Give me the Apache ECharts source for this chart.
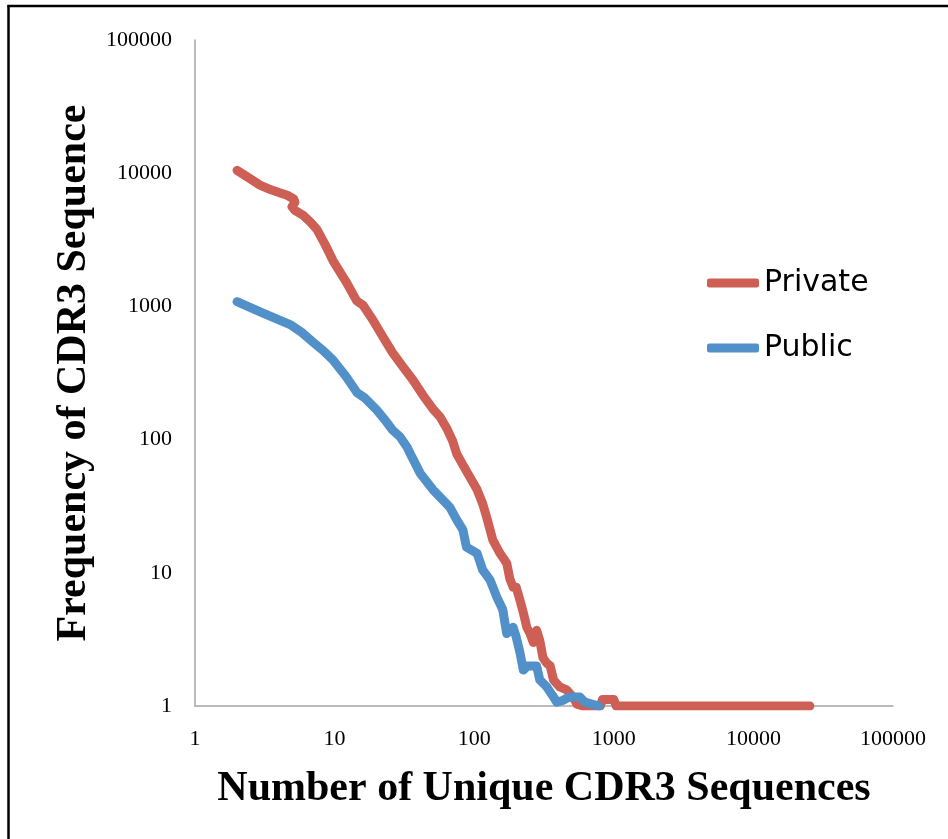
<!DOCTYPE html>
<html>
<head>
<meta charset="utf-8">
<script src="https://cdn.jsdelivr.net/npm/echarts@6/dist/echarts.min.js"></script>
<style>
  html, body { margin: 0; padding: 0; background: #fff; }
  #chart { width: 948px; height: 839px; }
</style>
</head>
<body>
<div id="chart"></div>
<script>
// Rank/frequency curves of CDR3 sequences (log-log)
const privateX = [2, 2.4, 2.92, 3.5, 4.0, 4.54, 5.1, 5.2, 4.95, 5.2, 6, 6.7, 7.45, 8.5, 9.75, 12, 14.4, 16, 18.8, 22, 26, 31, 36.4, 43, 50.6, 57, 64, 70, 75, 88, 105, 115, 123, 136, 153, 171, 180, 190, 200, 213, 225, 238, 251, 265, 280, 295, 311, 330, 350, 370, 410, 460, 510, 545, 600, 800, 830, 1000, 1040, 25400];
const privateY = [10500, 9300, 8140, 7500, 7150, 6860, 6400, 6050, 5600, 5250, 4800, 4300, 3800, 2950, 2200, 1550, 1100, 1020, 790, 600, 450, 350, 280, 215, 170, 148, 120, 98, 78, 58, 42, 33, 26, 17.6, 14, 11.8, 9, 7.8, 7.8, 6.2, 5, 3.9, 3.5, 3.0, 3.7, 3.1, 2.3, 2.1, 2.0, 1.57, 1.39, 1.32, 1.17, 1.03, 1, 1, 1.12, 1.12, 1, 1];

const publicX = [2, 3.07, 4.8, 5.8, 7, 8.2, 9.7, 12, 14.5, 16.5, 20, 23, 26, 29.4, 33, 34.7, 41, 50.7, 60, 67, 75, 83, 88, 105, 115, 130, 145, 160, 171, 180, 190, 200, 213, 225, 240, 280, 295, 331, 370, 390, 430, 480, 570, 620, 780];
const publicY = [1084, 890, 730, 640, 540, 470, 398, 300, 225, 205, 167, 140, 118, 105, 88, 79, 56, 42, 35, 31, 25, 21, 15.6, 14, 10.5, 8.8, 6.6, 5.3, 3.5, 3.7, 3.9, 3.3, 2.5, 1.86, 2.0, 2.0, 1.57, 1.39, 1.17, 1.07, 1.1, 1.17, 1.17, 1.07, 1];

const seriesNames = ['Private', 'Public'];
const xTitle = 'Number of Unique CDR3 Sequences';
const yTitle = 'Frequency of CDR3 Sequence';

const zip = (xs, ys) => xs.map((x, i) => [x, ys[i]]);
const plain = v => String(Math.round(v));

const chart = echarts.init(document.getElementById('chart'), null, { renderer: 'canvas' });

const labelFont = { fontFamily: 'Liberation Serif', fontSize: 22, color: '#000' };
const titleFont = { fontFamily: 'Liberation Serif', fontSize: 42, fontWeight: 'bold', color: '#000' };

chart.setOption({
  backgroundColor: '#fff',
  animation: false,
  color: ['#CD5F55', '#5190C9'],
  grid: { left: 195, right: 55, top: 40, bottom: 133, containLabel: false },
  legend: {
    data: seriesNames,
    orient: 'vertical',
    left: 702,
    top: 260,
    itemWidth: 52,
    itemHeight: 9,
    itemGap: 29,
    icon: 'roundRect',
    textStyle: { fontFamily: 'DejaVu Sans', fontSize: 30, color: '#000', lineHeight: 30, padding: [6, 0, 0, 0] }
  },
  xAxis: {
    type: 'log',
    logBase: 10,
    min: 1,
    max: 100000,
    name: xTitle,
    nameLocation: 'middle',
    nameGap: 62,
    nameTextStyle: titleFont,
    axisLine: { show: true, lineStyle: { color: '#a6a6a6', width: 1.5 } },
    axisTick: { show: false },
    splitLine: { show: false },
    minorTick: { show: false },
    axisLabel: Object.assign({ margin: 22, formatter: plain }, labelFont)
  },
  yAxis: {
    type: 'log',
    logBase: 10,
    min: 1,
    max: 100000,
    name: yTitle,
    nameLocation: 'middle',
    nameRotate: 90,
    nameGap: 96,
    nameTextStyle: titleFont,
    axisLine: { show: true, lineStyle: { color: '#a6a6a6', width: 1.5 } },
    axisTick: { show: false },
    splitLine: { show: false },
    axisLabel: Object.assign({ margin: 23, formatter: plain }, labelFont)
  },
  graphic: [
    { type: 'line', shape: { x1: 8.5, y1: 5, x2: 8.5, y2: 839 }, style: { stroke: '#000', lineWidth: 2.5 } },
    { type: 'line', shape: { x1: 7.5, y1: 6, x2: 948, y2: 6 }, style: { stroke: '#000', lineWidth: 2.5 } }
  ],
  series: [
    {
      name: seriesNames[0],
      type: 'line',
      data: zip(privateX, privateY),
      showSymbol: false,
      symbol: 'none',
      smooth: false,
      lineStyle: { width: 9, cap: 'round', join: 'round' }
    },
    {
      name: seriesNames[1],
      type: 'line',
      data: zip(publicX, publicY),
      showSymbol: false,
      symbol: 'none',
      smooth: false,
      lineStyle: { width: 9, cap: 'round', join: 'round' }
    }
  ]
});
</script>
</body>
</html>
